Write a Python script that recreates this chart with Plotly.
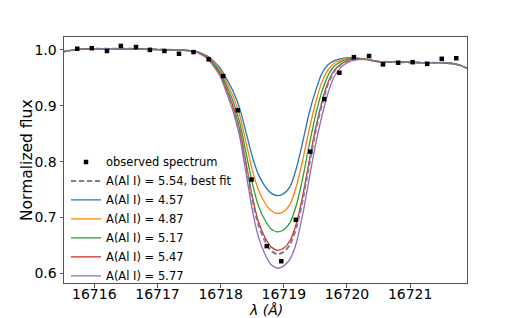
import plotly.graph_objects as go

# ---------------- data ----------------
wave_obs = [16715.73, 16715.96, 16716.20, 16716.42, 16716.66, 16716.88, 16717.11,
            16717.34, 16717.57, 16717.81, 16718.04, 16718.27, 16718.49, 16718.73,
            16718.96, 16719.19, 16719.42, 16719.64, 16719.88, 16720.11, 16720.35,
            16720.57, 16720.81, 16721.04, 16721.27, 16721.50, 16721.73]
flux_obs = [1.002, 1.003, 0.998, 1.007, 1.005, 1.000, 0.998,
            0.993, 0.996, 0.983, 0.953, 0.892, 0.768, 0.649,
            0.622, 0.696, 0.818, 0.912, 0.959, 0.987, 0.989,
            0.974, 0.977, 0.978, 0.975, 0.984, 0.985]

# model wavelength grid: left continuum, line core, right continuum
wave_left = [16715.52, 16715.75, 16716.1, 16716.5, 16716.9, 16717.2, 16717.4]
flux_left = [0.997, 1.001, 1.002, 1.002, 1.001, 1.000, 0.9995]
wave_line = [16717.5, 16717.6, 16717.7, 16717.8, 16717.9, 16718.0, 16718.1,
             16718.2, 16718.3, 16718.4, 16718.5, 16718.6, 16718.7, 16718.8,
             16718.9, 16719.0, 16719.1, 16719.2, 16719.3, 16719.4, 16719.5,
             16719.6, 16719.7, 16719.8, 16719.9, 16720.0, 16720.1]
wave_right = [16720.3, 16720.5, 16720.8, 16721.2, 16721.5, 16721.7, 16721.8, 16721.9]
flux_right = [0.983, 0.979, 0.978, 0.977, 0.977, 0.975, 0.972, 0.967]

flux_best = [0.9986, 0.9969, 0.9919, 0.9844, 0.9709, 0.9540, 0.9262, 0.8958, 0.8554,
             0.7945, 0.7327, 0.6861, 0.6583, 0.6404, 0.6344, 0.6387, 0.6520, 0.6824,
             0.7319, 0.7931, 0.8530, 0.9009, 0.9393, 0.9619, 0.9734, 0.9798, 0.9833]
flux_457 = [0.9987, 0.9975, 0.9937, 0.9884, 0.9785, 0.9666, 0.9467, 0.9252, 0.8963,
            0.8533, 0.8093, 0.7764, 0.7564, 0.7438, 0.7393, 0.7428, 0.7557, 0.7886,
            0.8357, 0.8863, 0.9257, 0.9574, 0.9733, 0.9809, 0.9840, 0.9860, 0.986]
flux_487 = [0.9987, 0.9973, 0.9932, 0.9872, 0.9762, 0.9628, 0.9404, 0.9162, 0.8838,
            0.8354, 0.7859, 0.7489, 0.7265, 0.7123, 0.7073, 0.7110, 0.7240, 0.7564,
            0.8033, 0.8566, 0.9041, 0.9414, 0.9643, 0.9766, 0.9813, 0.9851, 0.9852]
flux_517 = [0.9987, 0.9971, 0.9926, 0.9859, 0.9738, 0.9588, 0.9340, 0.9070, 0.8710,
            0.8169, 0.7619, 0.7205, 0.6957, 0.6798, 0.6743, 0.6781, 0.6914, 0.7229,
            0.7712, 0.8285, 0.8818, 0.9244, 0.9540, 0.9711, 0.9784, 0.9829, 0.9844]
flux_547 = [0.9986, 0.9969, 0.9920, 0.9847, 0.9714, 0.9549, 0.9276, 0.8977, 0.8581,
            0.7984, 0.7378, 0.6921, 0.6648, 0.6473, 0.6414, 0.6456, 0.6590, 0.6898,
            0.7390, 0.7991, 0.8581, 0.9051, 0.9420, 0.9634, 0.9740, 0.9803, 0.9837]
flux_577 = [0.9986, 0.9967, 0.9915, 0.9834, 0.9690, 0.9510, 0.9213, 0.8888, 0.8456,
            0.7805, 0.7144, 0.6646, 0.6349, 0.6157, 0.6094, 0.6136, 0.6260, 0.6555,
            0.7062, 0.7679, 0.8297, 0.8802, 0.9229, 0.9528, 0.9682, 0.9767, 0.9810]

model_labels = ["A(Al I) = 4.57", "A(Al I) = 4.87", "A(Al I) = 5.17",
                "A(Al I) = 5.47", "A(Al I) = 5.77"]
model_fluxes = [flux_457, flux_487, flux_517, flux_547, flux_577]
model_colors = ["#1f77b4", "#ff7f0e", "#2ca02c", "#d62728", "#9467bd"]

x_ticks = [16716, 16717, 16718, 16719, 16720, 16721]
y_ticks = [0.6, 0.7, 0.8, 0.9, 1.0]

# ---------------- figure ----------------
wave_model = wave_left + wave_line + wave_right
fig = go.Figure()

for i, (lab, fl, col) in enumerate(zip(model_labels, model_fluxes, model_colors)):
    fig.add_trace(go.Scatter(
        x=wave_model, y=flux_left + fl + flux_right, mode="lines", name=lab,
        line=dict(color=col, width=1.3, shape="spline", smoothing=0.6),
        legendrank=3 + i))

fig.add_trace(go.Scatter(
    x=wave_model, y=flux_left + flux_best + flux_right, mode="lines",
    name="A(Al I) = 5.54, best fit",
    line=dict(color="#7f7f7f", width=2, dash="5px,3px", shape="spline", smoothing=0.6),
    legendrank=2))

fig.add_trace(go.Scatter(
    x=wave_obs, y=flux_obs, mode="markers", name="observed spectrum",
    marker=dict(symbol="square", size=4.5, color="black"),
    legendrank=1))

axis_common = dict(showgrid=False, zeroline=False, showline=True, mirror=True,
                   linecolor="#555555", linewidth=1, ticks="outside", ticklen=3.5,
                   tickcolor="#555555", tickfont=dict(size=14, color="black"),
                   automargin=False)

# the page body adds an 8px offset, so margins are shifted to compensate
fig.update_layout(
    width=518, height=318,
    margin=dict(l=56, r=59, t=29, b=43),
    paper_bgcolor="white", plot_bgcolor="white",
    font=dict(family="DejaVu Sans", color="black"),
    showlegend=True,
    legend=dict(x=0.005, y=0.551, xanchor="left", yanchor="top",
                bgcolor="rgba(255,255,255,0)", font=dict(size=11.5),
                itemwidth=30, tracegroupgap=0),
    xaxis=dict(range=[16715.52, 16721.9], tickvals=x_ticks,
               ticktext=[str(t) for t in x_ticks], ticklabelstandoff=-5,
               **axis_common),
    yaxis=dict(range=[0.583, 1.023], tickvals=y_ticks,
               ticktext=[f"{t:.1f}" for t in y_ticks], **axis_common),
    annotations=[
        dict(text="<i>λ (Å)</i>", xref="paper", yref="paper", x=0.5, y=0,
             xanchor="center", yanchor="middle", yshift=-27, showarrow=False,
             font=dict(size=14)),
        dict(text="Normalized flux", xref="paper", yref="paper", x=0, y=0.5,
             xanchor="center", yanchor="middle", xshift=-37, textangle=-90,
             showarrow=False, font=dict(size=15.5)),
    ],
)

fig.write_html("out.html")
